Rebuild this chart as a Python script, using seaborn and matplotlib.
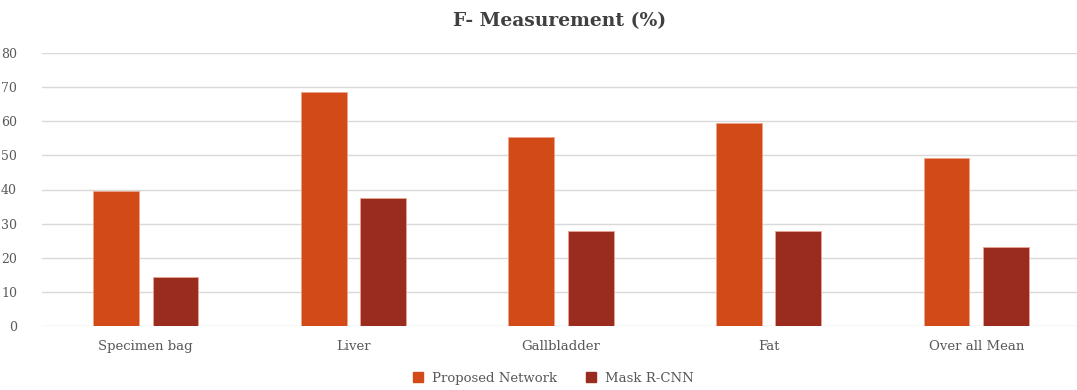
import matplotlib
matplotlib.use("Agg")
import matplotlib.pyplot as plt
import seaborn as sns
import pandas as pd
from matplotlib.lines import Line2D

categories = ["Specimen bag", "Liver", "Gallbladder", "Fat", "Over all Mean"]
proposed_network = [39.5, 68.7, 55.4, 59.5, 49.3]
mask_rcnn = [14.5, 37.5, 27.9, 27.9, 23.2]
series_names = ["Proposed Network", "Mask R-CNN"]
y_ticks = [0, 10, 20, 30, 40, 50, 60, 70, 80]

df = pd.DataFrame({
    "Category": categories * 2,
    "Model": [series_names[0]] * len(categories) + [series_names[1]] * len(categories),
    "Value": proposed_network + mask_rcnn,
})

sns.set_theme(style="white")
plt.rcParams["font.family"] = ["DejaVu Serif"]

text_color = "#595959"
palette = {series_names[0]: "#D24A17", series_names[1]: "#9A2B1F"}

fig = plt.figure(figsize=(10.77, 3.9), dpi=100)
ax = fig.add_axes([42 / 1077, 64 / 390, 1038 / 1077, 273 / 390])

sns.barplot(
    data=df, x="Category", y="Value", hue="Model", order=categories,
    hue_order=series_names, palette=palette, saturation=1, width=0.572, gap=0.227,
    edgecolor="#EBA58C", linewidth=0.6, legend=False, ax=ax, zorder=3,
)

ax.set_ylim(0, 80)
ax.set_xlim(-0.5, 4.5)
ax.set_yticks(y_ticks)
ax.yaxis.grid(True, color="#D9D9D9", linewidth=1.0, zorder=0)
ax.set_axisbelow(True)
for s in ax.spines.values():
    s.set_visible(False)
ax.set_xlabel("")
ax.set_ylabel("")
ax.tick_params(axis="y", labelsize=9, colors=text_color, pad=18, length=0)
ax.tick_params(axis="x", labelsize=9.5, colors=text_color, pad=10, length=0)

fig.text(0.52, 0.945, "F- Measurement (%)", ha="center", va="center",
         fontsize=13.5, fontweight="bold", color="#404040")

handles = [Line2D([0], [0], marker="s", linestyle="none", markersize=7,
                  markerfacecolor=palette[n], markeredgecolor=palette[n])
           for n in series_names]
fig.legend(handles, series_names, loc="center", bbox_to_anchor=(0.51, 0.03),
           ncol=2, frameon=False, fontsize=9.5, labelcolor=text_color,
           handletextpad=0.1, columnspacing=1.5)

fig.savefig("out.png", dpi=100)
